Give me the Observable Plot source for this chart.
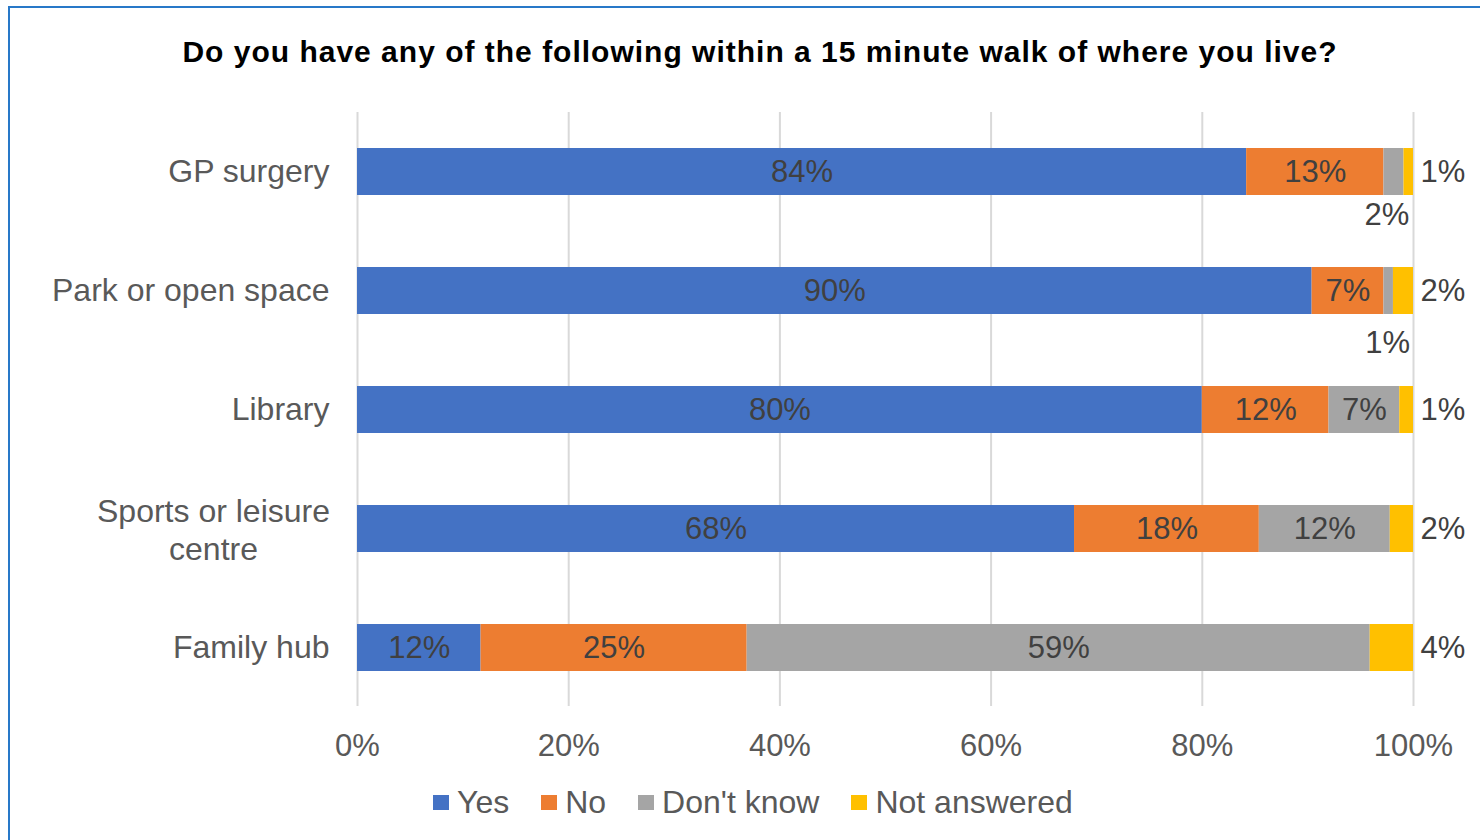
<!DOCTYPE html>
<html>
<head>
<meta charset="utf-8">
<script src="https://cdn.jsdelivr.net/npm/d3@7"></script>
<script src="https://cdn.jsdelivr.net/npm/@observablehq/plot@0.6"></script>
<style>
  body { margin: 0; background: #fff; font-family: "Liberation Sans", Arial, sans-serif; }
  #wrap { position: relative; width: 1480px; height: 840px; overflow: hidden; background: #fff; }
  #chart { position: absolute; left: 0; top: 0; }
  #frame { position: absolute; left: 8px; top: 6px; width: 1520px; height: 900px; border: 2px solid #2878C8; box-sizing: border-box; pointer-events: none; }
  #title { position: absolute; left: 0; top: 35px; width: 1520px; text-align: center; font-weight: bold; font-size: 30px; line-height: 34px; color: #000; letter-spacing: 1px; }
  #legend { position: absolute; left: 433px; top: 785px; height: 34px; display: flex; align-items: center; font-size: 32px; color: #595959; }
  #legend .item { display: flex; align-items: center; margin-right: 32px; }
  #legend .sw { width: 16px; height: 15px; margin-right: 8px; }
</style>
</head>
<body>
<div id="wrap">
  <div id="chart"></div>
  <div id="title">Do you have any of the following within a 15 minute walk of where you live?</div>
  <div id="legend"></div>
  <div id="frame"></div>
</div>
<script>
const categories = ["GP surgery", "Park or open space", "Library", "Sports or leisure centre", "Family hub"];
const responses = ["Yes", "No", "Don't know", "Not answered"];
const yesValues = [84.2, 90.4, 80.0, 67.9, 11.7];
const noValues = [13.0, 6.8, 12.0, 17.5, 25.2];
const dontKnowValues = [1.9, 0.9, 6.7, 12.4, 59.0];
const notAnsweredValues = [0.9, 1.9, 1.3, 2.2, 4.1];
const xTicks = [0, 20, 40, 60, 80, 100];
const colors = ["#4472C4", "#ED7D31", "#A5A5A5", "#FFC000"];

const series = [yesValues, noValues, dontKnowValues, notAnsweredValues];
const data = [];
categories.forEach((c, i) => {
  responses.forEach((r, j) => {
    data.push({category: c, response: r, value: series[j][i]});
  });
});

const fmt = v => Math.round(v) + "%";
const isInside = d => d.response !== "Not answered" && d.value >= 3;
const isBelow = d => d.response === "Don't know" && d.value < 3;
const FONT = "Liberation Sans, Arial, sans-serif";

const chart = Plot.plot({
  width: 1480,
  height: 840,
  marginLeft: 357,
  marginRight: 67,
  marginTop: 112,
  marginBottom: 134,
  style: {fontFamily: FONT, fontSize: "31px", background: "transparent", overflow: "visible"},
  x: {domain: [0, 100]},
  y: {domain: categories, paddingInner: 0.607, paddingOuter: 0.29},
  color: {domain: responses, range: colors},
  marks: [
    Plot.gridX(xTicks, {stroke: "#D9D9D9", strokeOpacity: 1, strokeWidth: 2}),
    Plot.axisX({ticks: xTicks, tickSize: 0, tickPadding: 27, tickFormat: d => d + "%", fill: "#595959", fontSize: 31, label: null}),
    Plot.axisY({ticks: categories.filter(c => c !== "Sports or leisure centre"), tickSize: 0, tickPadding: 28, fill: "#595959", fontSize: 32, label: null}),
    Plot.axisY({ticks: ["Sports or leisure centre"], tickSize: 0, tickPadding: 144, textAnchor: "middle", lineHeight: 1.17,
      tickFormat: () => "Sports or leisure\ncentre", fill: "#595959", fontSize: 32, label: null}),
    Plot.barX(data, Plot.stackX({x: "value", y: "category", fill: "response"})),
    Plot.text(data, Plot.stackX({x: "value", y: "category", text: d => isInside(d) ? fmt(d.value) : null,
      fill: "#404040", fontSize: 31})),
    Plot.text(data, Plot.stackX2({x: "value", y: "category", text: d => d.response === "Not answered" ? fmt(d.value) : null,
      textAnchor: "start", dx: 7, fill: "#404040", fontSize: 31})),
    Plot.text(data, Plot.stackX({x: "value", y: "category", text: d => isBelow(d) && d.category === categories[0] ? fmt(d.value) : null,
      dx: -7, dy: 43, fill: "#404040", fontSize: 31})),
    Plot.text(data, Plot.stackX({x: "value", y: "category", text: d => isBelow(d) && d.category !== categories[0] ? fmt(d.value) : null,
      dx: -1, dy: 52, fill: "#404040", fontSize: 31})),
    Plot.ruleX(data, Plot.stackX({x: "value", y: "category", stroke: "#A5A5A5", strokeWidth: 2,
      strokeOpacity: d => isBelow(d) && d.category !== categories[0] ? 1 : 0,
      insetTop: 40, dy: 8, dx: -1}))
  ]
});
document.getElementById("chart").appendChild(chart);

const legend = document.getElementById("legend");
responses.forEach((r, i) => {
  const item = document.createElement("div");
  item.className = "item";
  const sw = document.createElement("span");
  sw.className = "sw";
  sw.style.background = colors[i];
  const t = document.createElement("span");
  t.textContent = r;
  item.appendChild(sw);
  item.appendChild(t);
  legend.appendChild(item);
});
</script>
</body>
</html>
